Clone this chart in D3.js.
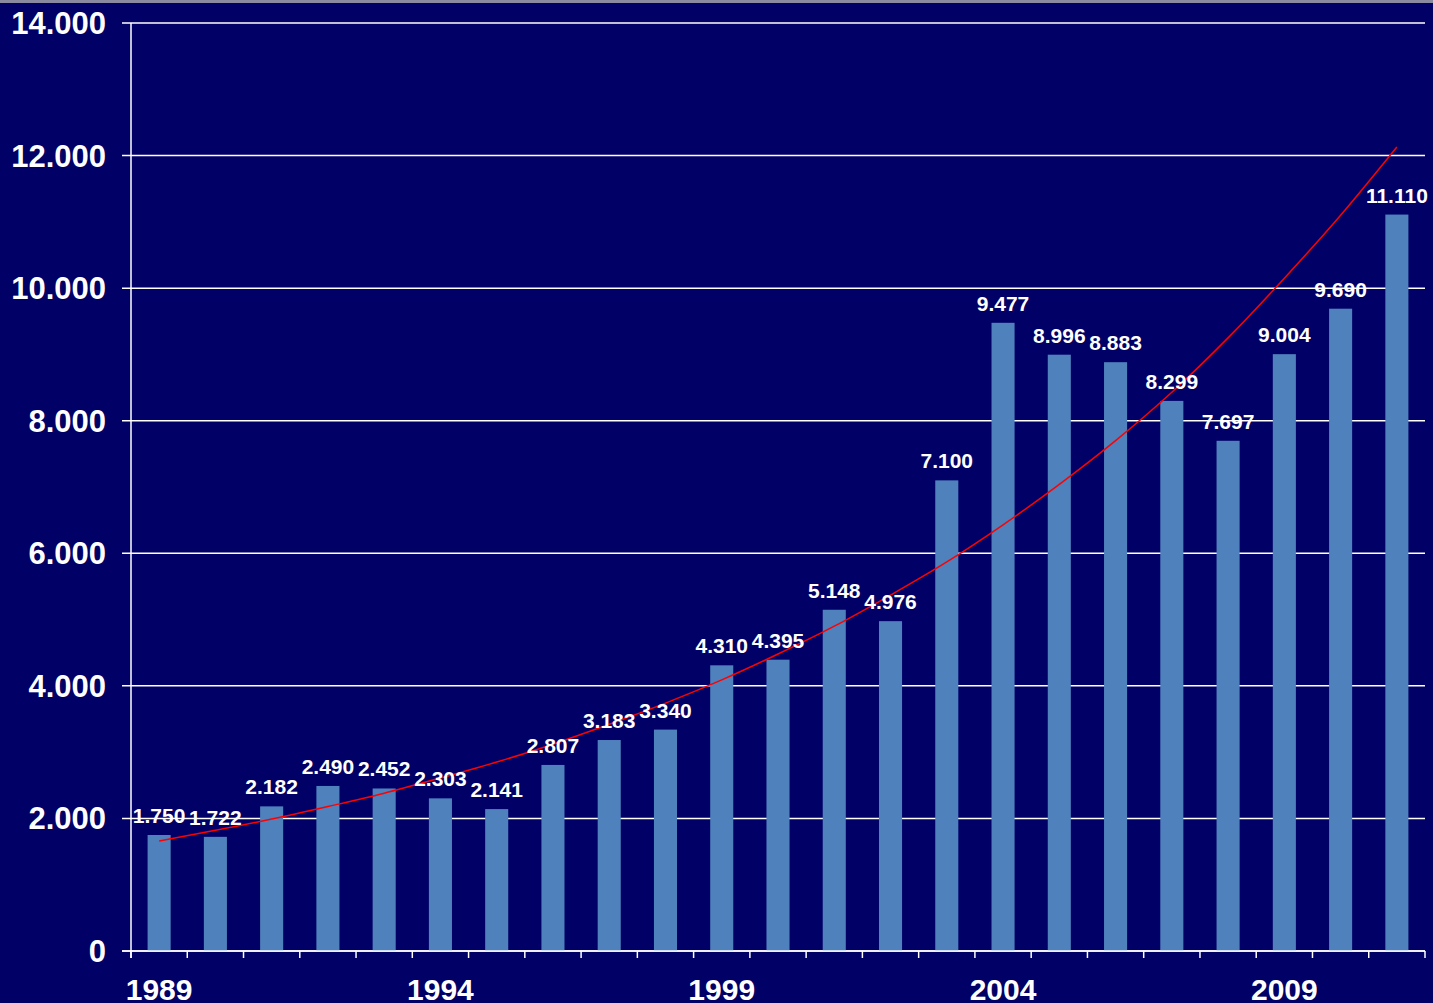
<!DOCTYPE html>
<html>
<head>
    <meta charset="utf-8">
    <title>bars with trend</title>
    <style>
    body { margin: 0; background: #000066; }
    svg { display: block; font-family: "Liberation Sans", Arial, sans-serif; font-weight: bold; }
    .grid line { stroke: #ffffff; stroke-width: 1.5; }
    .bar { fill: #4f81bd; }
    .lbl { fill: #ffffff; font-size: 21px; text-anchor: middle; }
    .ytick { fill: #ffffff; font-size: 31px; text-anchor: end; }
    .xtick { fill: #ffffff; font-size: 30px; text-anchor: middle; }
    </style>
</head>
<body>
    <svg width="1433" height="1003"></svg>
    <script src="https://d3js.org/d3.v7.min.js"></script>
    <script>
        var years = d3.range(1989, 2012);
        var values = [1750, 1722, 2182, 2490, 2452, 2303, 2141, 2807, 3183, 3340, 4310, 4395,
                      5148, 4976, 7100, 9477, 8996, 8883, 8299, 7697, 9004, 9690, 11110];
        // trend line
        var trend = [1660, 1820, 1990, 2180, 2380, 2610, 2850, 3120, 3420, 3740, 4090, 4480,
                     4900, 5370, 5870, 6430, 7040, 7700, 8430, 9250, 10150, 11100, 12130];
        var yTicks = [0, 2000, 4000, 6000, 8000, 10000, 12000, 14000];
        var xLabels = [1989, 1994, 1999, 2004, 2009];

        var plotL = 131, plotR = 1425, plotT = 23, plotB = 951;
        var svg = d3.select("svg");
        var fmt = function(v) { return d3.format(",")(v).replace(/,/g, "."); };

        svg.append("rect").attr("width", 1433).attr("height", 3).attr("fill", "#8a8aa0");

        var x = d3.scaleBand().domain(years).range([plotL, plotR]).paddingInner(0.59).paddingOuter(0.295);
        var y = d3.scaleLinear().domain([0, 14000]).range([plotB, plotT]);

        // gridlines + y ticks
        var g = svg.append("g").attr("class", "grid");
        g.selectAll("line").data(yTicks).enter().append("line")
            .attr("x1", plotL - 9).attr("x2", plotR)
            .attr("y1", d => y(d)).attr("y2", d => y(d));
        svg.selectAll(".ytick").data(yTicks).enter().append("text")
            .attr("class", "ytick")
            .attr("x", 106).attr("y", d => y(d) + 11)
            .text(fmt);

        // axis lines
        svg.append("line").attr("x1", plotL).attr("x2", plotL).attr("y1", plotT).attr("y2", plotB + 7)
            .attr("stroke", "#fff").attr("stroke-width", 1.5);
        var step = x.step();
        var bounds = d3.range(years.length + 1).map(i => plotL + i * step);
        svg.selectAll(".xt").data(bounds).enter().append("line")
            .attr("x1", d => d).attr("x2", d => d).attr("y1", plotB).attr("y2", plotB + 7)
            .attr("stroke", "#fff").attr("stroke-width", 1.5);

        // bars
        svg.selectAll(".bar").data(values).enter().append("rect")
            .attr("class", "bar")
            .attr("x", (d, i) => x(years[i]))
            .attr("width", x.bandwidth())
            .attr("y", d => y(d))
            .attr("height", d => y(0) - y(d));

        svg.append("line").attr("x1", plotL - 9).attr("x2", plotR).attr("y1", plotB).attr("y2", plotB)
            .attr("stroke", "#fff").attr("stroke-width", 1.5);

        // trend
        var line = d3.line()
            .x((d, i) => x(years[i]) + x.bandwidth() / 2)
            .y(d => y(d))
            .curve(d3.curveMonotoneX);
        svg.append("path").datum(trend).attr("d", line)
            .attr("fill", "none").attr("stroke", "#ff0000").attr("stroke-width", 1.5);

        // labels
        svg.selectAll(".lbl").data(values).enter().append("text")
            .attr("class", "lbl")
            .attr("x", (d, i) => x(years[i]) + x.bandwidth() / 2)
            .attr("y", d => y(d) - 12)
            .text(fmt);

        svg.selectAll(".xtick").data(xLabels).enter().append("text")
            .attr("class", "xtick")
            .attr("x", d => x(d) + x.bandwidth() / 2)
            .attr("y", 1000)
            .text(d => d);
    </script>
</body>
</html>
